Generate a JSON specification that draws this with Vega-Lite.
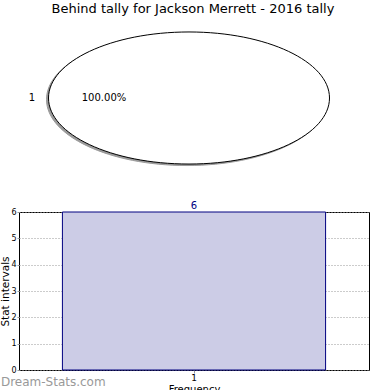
{
  "$schema": "https://vega.github.io/schema/vega-lite/v6.json",
  "padding": {"left": 0, "top": 3, "right": 5, "bottom": 0},
  "title": {"text": "Behind tally for Jackson Merrett - 2016 tally", "fontSize": 13, "font": "DejaVu Sans", "fontWeight": "normal", "color": "#000", "anchor": "middle", "offset": 4, "dx": 8},
  "config": {
    "font": "DejaVu Sans",
    "view": {"stroke": "#000", "strokeWidth": 1},
    "axis": {"labelFont": "DejaVu Sans", "titleFont": "DejaVu Sans", "titleFontWeight": "normal", "labelColor": "#000", "titleColor": "#000"}
  },
  "spacing": 25,
  "vconcat": [
    {
      "width": 350,
      "height": 155,
      "view": {"stroke": null},
      "data": {"values": [{"slice": "1", "share": "100.00%", "count": 6}]},
      "layer": [
        {
          "mark": {"type": "point", "shape": "M-1,0A1,0.47,0,1,0,1,0A1,0.47,0,1,0,-1,0Z", "size": 78961, "filled": true, "fill": "#9a9a9a", "stroke": "#9a9a9a", "strokeWidth": 1, "opacity": 1, "xOffset": -7, "yOffset": 2},
          "encoding": {}
        },
        {
          "mark": {"type": "point", "shape": "M-1,0A1,0.47,0,1,0,1,0A1,0.47,0,1,0,-1,0Z", "size": 78961, "filled": true, "fill": "#ffffff", "stroke": "#000000", "strokeWidth": 1, "opacity": 1, "xOffset": -5, "yOffset": 0.5},
          "encoding": {}
        },
        {
          "mark": {"type": "text", "fontSize": 10, "color": "#000", "dx": -162, "align": "center", "baseline": "middle", "dy": 0.5},
          "encoding": {"text": {"field": "slice"}}
        },
        {
          "mark": {"type": "text", "fontSize": 10, "color": "#000", "dx": -90, "align": "center", "baseline": "middle", "dy": 0.5},
          "encoding": {"text": {"field": "share"}}
        }
      ]
    },
    {
      "width": 350,
      "height": 158,
      "title": {"text": "Dream-Stats.com", "orient": "bottom", "anchor": "start", "frame": "bounds", "fontSize": 12, "fontWeight": "normal", "color": "#999999", "offset": -17},
      "data": {"values": [{"interval": "1", "count": 6}]},
      "encoding": {
        "x": {"field": "interval", "type": "nominal", "title": "Frequency",
          "scale": {"paddingInner": 0, "paddingOuter": 0.165},
          "axis": {"labelAngle": 0, "labelFontSize": 9, "titleFontSize": 10, "domain": false, "tickSize": 3, "tickColor": "#999", "labelPadding": 0, "titlePadding": 2, "grid": true, "gridDash": [1, 2], "gridColor": "#999", "bandPosition": 0.5}},
        "y": {"field": "count", "type": "quantitative", "title": "Stat intervals",
          "scale": {"domain": [0, 6], "nice": false},
          "axis": {"values": [0, 1, 2, 3, 4, 5, 6], "labelFontSize": 8, "titleFontSize": 10.5, "domain": false, "tickSize": 2, "tickColor": "#999", "labelPadding": 1, "titlePadding": 0, "grid": true, "gridDash": [1, 2], "gridColor": "#999"}}
      },
      "layer": [
        {"mark": {"type": "bar", "fill": "#ccccE6", "stroke": "#000080", "strokeWidth": 1}},
        {"mark": {"type": "text", "fontSize": 10, "color": "#000080", "baseline": "bottom", "dy": -1}, "encoding": {"text": {"field": "count", "type": "quantitative"}}}
      ]
    }
  ]
}
